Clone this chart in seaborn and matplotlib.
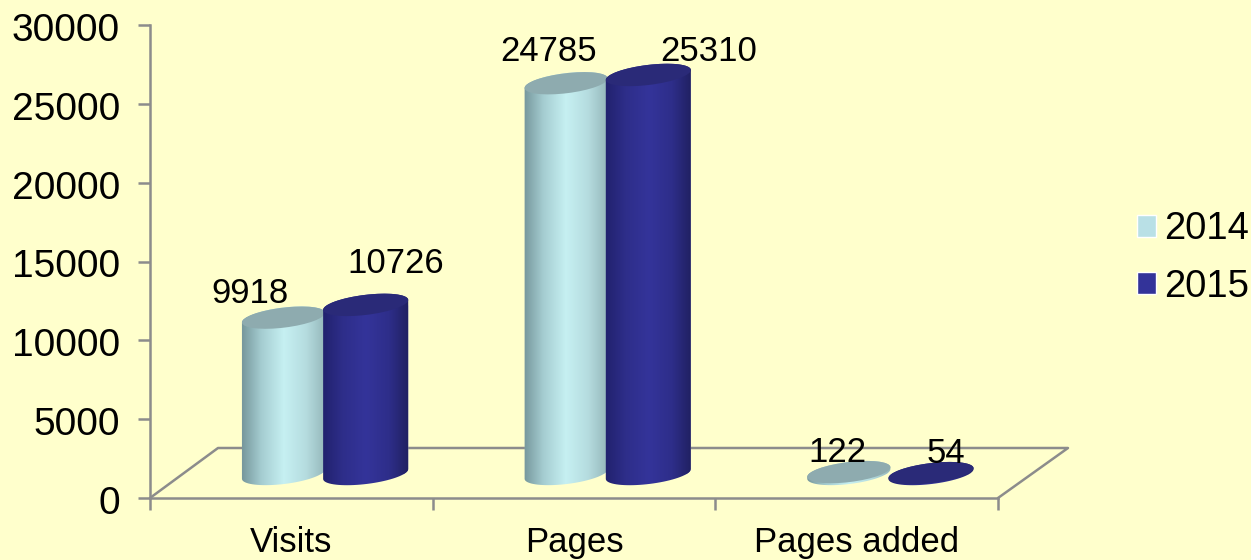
# Site statistics chart, cylinders drawn over seaborn bars
import numpy as np
import pandas as pd
import matplotlib
matplotlib.use('Agg')
import matplotlib.pyplot as plt
import seaborn as sns
from matplotlib.colors import LinearSegmentedColormap
from matplotlib.lines import Line2D
from matplotlib.patches import Ellipse, PathPatch
from matplotlib.path import Path
from matplotlib.transforms import IdentityTransform, Affine2D

# Data
categories = ['Visits', 'Pages', 'Pages added']
years = ['2014', '2015']
values_2014 = [9918, 24785, 122]
values_2015 = [10726, 25310, 54]
y_ticks = [0, 5000, 10000, 15000, 20000, 25000, 30000]

df = pd.DataFrame({
    'Category': categories * 2,
    'Year': [years[0]] * 3 + [years[1]] * 3,
    'Count': values_2014 + values_2015,
})

BG = '#ffffcc'
GREY = '#8c8c8c'
W, H = 1251, 560
sns.set_theme(style='white', rc={'figure.facecolor': BG, 'axes.facecolor': BG})
plt.rcParams['font.family'] = ['Liberation Sans', 'DejaVu Sans']

fig = plt.figure(figsize=(W / 100, H / 100), dpi=100)
ax = fig.add_axes([150 / W, 1 - 498 / H, 848 / W, 473 / H])
ax.patch.set_alpha(0)

sns.barplot(data=df, x='Category', y='Count', hue='Year', order=categories, hue_order=years,
            palette=['#b9e0e6', '#333399'], width=0.585, gap=0, saturation=1, ax=ax, zorder=3)
ax.set_xlim(-0.5, 2.5)
ax.set_ylim(0, 30000)
ax.autoscale(False)
ax.set_xlabel('')
ax.set_ylabel('')

# Axis lines and ticks
sns.despine(ax=ax)
for side in ['left', 'bottom']:
    ax.spines[side].set_color(GREY)
    ax.spines[side].set_linewidth(1.8)
ax.set_yticks(y_ticks)
ax.tick_params(axis='y', length=8.6, width=1.8, color=GREY, labelsize=28, labelcolor='black', pad=13, left=True)
ax.set_xticks([0, 1, 2], categories)
ax.set_xticks([-0.5, 0.5, 1.5, 2.5], minor=True)
ax.tick_params(axis='x', which='major', length=0, labelsize=25, labelcolor='black', pad=20.5)
ax.tick_params(axis='x', which='minor', length=8.6, width=1.8, color=GREY, bottom=True)
for lbl in ax.get_yticklabels():
    lbl.set_transform(lbl.get_transform() + Affine2D().translate(0, -2))

# Floor of the 3D box, in pixels, behind the bars
x0, y0 = ax.transAxes.transform((0, 0))
x1, _ = ax.transAxes.transform((1, 0))
ax.add_line(Line2D([x0, x0 + 68, x1 + 70, x1], [y0, y0 + 50, y0 + 50, y0], color=GREY, lw=1.8,
                   transform=IdentityTransform(), zorder=1, clip_on=False))

# Depth shift of the bars from the front plane
DX, DY = 33.5, 24
A_TILT = np.radians(7)
B = 10


def ellipse_pts(cx, cy, a, start, stop):
    t = np.linspace(start, stop, 40)
    xs = cx + a * np.cos(t) * np.cos(A_TILT) - B * np.sin(t) * np.sin(A_TILT)
    ys = cy + a * np.cos(t) * np.sin(A_TILT) + B * np.sin(t) * np.cos(A_TILT)
    return np.column_stack([xs, ys])


cmaps = [
    LinearSegmentedColormap.from_list('light', ['#6f8f94', '#a5cdd1', '#c6f0f2', '#b5dcdf', '#8fb0b3']),
    LinearSegmentedColormap.from_list('dark', ['#20206a', '#2e2e8a', '#34349a', '#2e2e8a', '#1e1e5a']),
]
top_colors = ['#8eabaf', '#2a2a78']
label_offsets = [
    [(-33, 24), (-18, 32), (-11, 20)],
    [(30, 41), (60, 23), (15, 20)],
]
shift = Affine2D().translate(DX, DY)

for h, container in enumerate(ax.containers):
    for i, bar in enumerate(container):
        left, base = ax.transData.transform((bar.get_x(), 0))
        right, top = ax.transData.transform((bar.get_x() + bar.get_width(), bar.get_height()))
        cx = (left + right) / 2 + DX - 0.5 * h
        a = (right - left) / 2 + 0.5 + h
        yb = base + DY
        yt = top + DY
        t0 = np.arctan2(-B * np.sin(A_TILT), a * np.cos(A_TILT))
        pts = np.vstack([ellipse_pts(cx, yt, a, t0, t0 + np.pi),
                         ellipse_pts(cx, yb, a, t0 + np.pi, t0 + 2 * np.pi)])
        z = 3 + h + i * 0.1
        body = PathPatch(Path(np.vstack([pts, pts[0]]), closed=True), transform=IdentityTransform(),
                         fc='none', ec='none', zorder=z)
        ax.add_patch(body)
        bar.set_transform(ax.transData + shift)
        bar.set_clip_path(body)
        im = ax.imshow(np.linspace(0, 1, 256)[None, :], cmap=cmaps[h], aspect='auto',
                       extent=(cx - a - 3, cx + a + 3, yb - 20, yt + 20),
                       transform=IdentityTransform(), zorder=z + 0.01, interpolation='bilinear')
        im.set_clip_path(body)
        ax.add_patch(Ellipse((cx, yt), 2 * a, 2 * B, angle=np.degrees(A_TILT), fc=top_colors[h], ec='none',
                             transform=IdentityTransform(), zorder=z + 0.02, clip_on=False))
        ax.annotate(str(int(bar.get_height())), xy=(cx, yt), xycoords=IdentityTransform(),
                    xytext=label_offsets[h][i], textcoords='offset pixels', ha='center', va='center',
                    fontsize=25, color='black', zorder=10)

ax.set_xlim(-0.5, 2.5)
ax.set_ylim(0, 30000)

# Legend
handles, labels = ax.get_legend_handles_labels()
ax.legend(handles, labels, loc='center left', bbox_to_anchor=(1137, H - 258), bbox_transform=IdentityTransform(),
          frameon=False, fontsize=27.5, labelcolor='black', handlelength=0.5, handleheight=0.5, handletextpad=0.21,
          labelspacing=0.56, borderpad=0, borderaxespad=0)

plt.savefig('out.png', dpi=100, facecolor=BG)
